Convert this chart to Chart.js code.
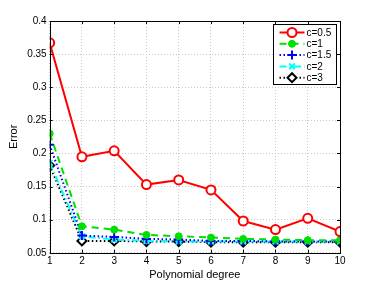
<!DOCTYPE html>
<html>
<head>
<meta charset="utf-8">
<script src="https://cdn.jsdelivr.net/npm/chart.js@4/dist/chart.umd.min.js"></script>
<style>
  html, body { margin: 0; padding: 0; background: #fff; }
  #wrap { width: 374px; height: 282px; }
</style>
</head>
<body>
<div id="wrap"><canvas id="errChart" width="374" height="282"></canvas></div>
<script>
// data
const degrees = [1, 2, 3, 4, 5, 6, 7, 8, 9, 10];
const seriesNames = ['c=0.5', 'c=1', 'c=1.5', 'c=2', 'c=3'];
const errC05 = [0.367, 0.195, 0.204, 0.153, 0.160, 0.145, 0.098, 0.085, 0.102, 0.082];
const errC1  = [0.230, 0.090, 0.085, 0.077, 0.075, 0.073, 0.071, 0.070, 0.069, 0.069];
const errC15 = [0.213, 0.076, 0.074, 0.071, 0.070, 0.068, 0.068, 0.067, 0.067, 0.067];
const errC2  = [0.186, 0.075, 0.070, 0.068, 0.067, 0.067, 0.067, 0.067, 0.067, 0.067];
const errC3  = [0.182, 0.068, 0.068, 0.067, 0.067, 0.066, 0.066, 0.066, 0.066, 0.066];
const yTicks = [0.05, 0.1, 0.15, 0.2, 0.25, 0.3, 0.35, 0.4];
const xTicks = [1, 2, 3, 4, 5, 6, 7, 8, 9, 10];

const FONT = 'Liberation Sans, Arial, sans-serif';

function toPoints(vals) {
  return degrees.map((d, i) => ({ x: d, y: vals[i] }));
}

// 선 스타일 (matlab 비슷하게)
const styles = [
  { color: '#ff0000', dash: [], point: 'circle', r: 4.5, fill: '#ffffff', pw: 2 },
  { color: '#00e000', dash: [7, 5], point: 'circle', r: 3.5, fill: '#00e000', pw: 1 },
  { color: '#0000ff', dash: [1.5, 2.5], point: 'cross', r: 4.5, fill: '#0000ff', pw: 2 },
  { color: '#00ffff', dash: [7, 3, 1.5, 3], point: 'crossRot', r: 4, fill: '#00ffff', pw: 2 },
  { color: '#000000', dash: [1.5, 2.5], point: 'rectRot', r: 4.5, fill: '#ffffff', pw: 2 }
];
const allValues = [errC05, errC1, errC15, errC2, errC3];

const datasets = allValues.map((vals, i) => ({
  label: seriesNames[i],
  data: toPoints(vals),
  borderColor: styles[i].color,
  backgroundColor: styles[i].fill,
  borderWidth: 2,
  borderDash: styles[i].dash,
  pointStyle: styles[i].point,
  pointRadius: styles[i].r,
  pointBorderWidth: styles[i].pw,
  pointBorderColor: styles[i].color,
  pointBackgroundColor: styles[i].fill,
  tension: 0
}));

// 박스 + 안쪽 눈금
const boxPlugin = {
  id: 'box',
  afterDatasetsDraw(chart) {
    const { ctx, chartArea: a, scales } = chart;
    ctx.save();
    ctx.strokeStyle = '#000';
    ctx.lineWidth = 1;
    ctx.setLineDash([]);
    ctx.beginPath();
    yTicks.forEach(v => {
      const y = Math.round(scales.y.getPixelForValue(v)) + 0.5;
      ctx.moveTo(a.left, y); ctx.lineTo(a.left + 3, y);
      ctx.moveTo(a.right, y); ctx.lineTo(a.right - 3, y);
    });
    xTicks.forEach(v => {
      const x = Math.round(scales.x.getPixelForValue(v)) + 0.5;
      ctx.moveTo(x, a.bottom); ctx.lineTo(x, a.bottom - 3);
      ctx.moveTo(x, a.top); ctx.lineTo(x, a.top + 3);
    });
    ctx.stroke();
    ctx.strokeRect(Math.round(a.left) + 0.5, Math.round(a.top) + 0.5,
      Math.round(a.right - a.left), Math.round(a.bottom - a.top));
    ctx.restore();
  },
  afterDraw(chart) {
    // 범례
    const { ctx, chartArea: a } = chart;
    const bx = Math.round(a.right) - 66.5, by = Math.round(a.top) + 3.5;
    const bw = 63, bh = 60;
    ctx.save();
    ctx.fillStyle = '#fff';
    ctx.fillRect(bx, by, bw, bh);
    ctx.strokeStyle = '#000';
    ctx.lineWidth = 1;
    ctx.setLineDash([]);
    ctx.strokeRect(bx, by, bw, bh);
    ctx.font = '10px ' + FONT;
    ctx.textBaseline = 'middle';
    chart.data.datasets.forEach((ds, i) => {
      const y = by + 8 + i * 11.3;
      const x0 = bx + 6, x1 = bx + 31;
      ctx.strokeStyle = ds.borderColor;
      ctx.lineWidth = 2;
      ctx.setLineDash(ds.borderDash);
      ctx.beginPath();
      ctx.moveTo(x0, y); ctx.lineTo(x1, y);
      ctx.stroke();
      ctx.setLineDash([]);
      ctx.lineWidth = ds.pointBorderWidth;
      ctx.fillStyle = ds.pointBackgroundColor;
      Chart.helpers.drawPoint(ctx, {
        pointStyle: ds.pointStyle, radius: ds.pointRadius, rotation: 0, borderWidth: ds.pointBorderWidth
      }, (x0 + x1) / 2, y);
      ctx.fillStyle = '#000';
      ctx.fillText(ds.label, x1 + 2, y + 0.5);
    });
    ctx.restore();
  }
};

const ctx = document.getElementById('errChart').getContext('2d');
new Chart(ctx, {
  type: 'line',
  data: { datasets: datasets },
  plugins: [boxPlugin],
  options: {
    responsive: false,
    animation: false,
    layout: { padding: { left: 7, right: 34, top: 21, bottom: 0 } },
    plugins: {
      legend: { display: false },
      tooltip: { enabled: false }
    },
    scales: {
      x: {
        type: 'linear',
        min: 1,
        max: 10,
        afterBuildTicks: axis => { axis.ticks = xTicks.map(v => ({ value: v })); },
        ticks: { color: '#000', font: { size: 10, family: FONT }, padding: 2 },
        grid: { color: '#c8c8c8', lineWidth: 1, drawTicks: false },
        border: { display: false, dash: [1, 2] },
        title: { display: true, text: 'Polynomial degree', color: '#000', font: { size: 11, family: FONT }, padding: { top: 0, bottom: 0 } }
      },
      y: {
        min: 0.05,
        max: 0.4,
        afterBuildTicks: axis => { axis.ticks = yTicks.map(v => ({ value: v })); },
        ticks: { color: '#000', font: { size: 10, family: FONT }, padding: 3,
          callback: v => String(Math.round(v * 100) / 100) },
        grid: { color: '#c8c8c8', lineWidth: 1, drawTicks: false },
        border: { display: false, dash: [1, 2] },
        title: { display: true, text: 'Error', color: '#000', font: { size: 11, family: FONT }, padding: { top: 0, bottom: 4 } }
      }
    }
  }
});
</script>
</body>
</html>
